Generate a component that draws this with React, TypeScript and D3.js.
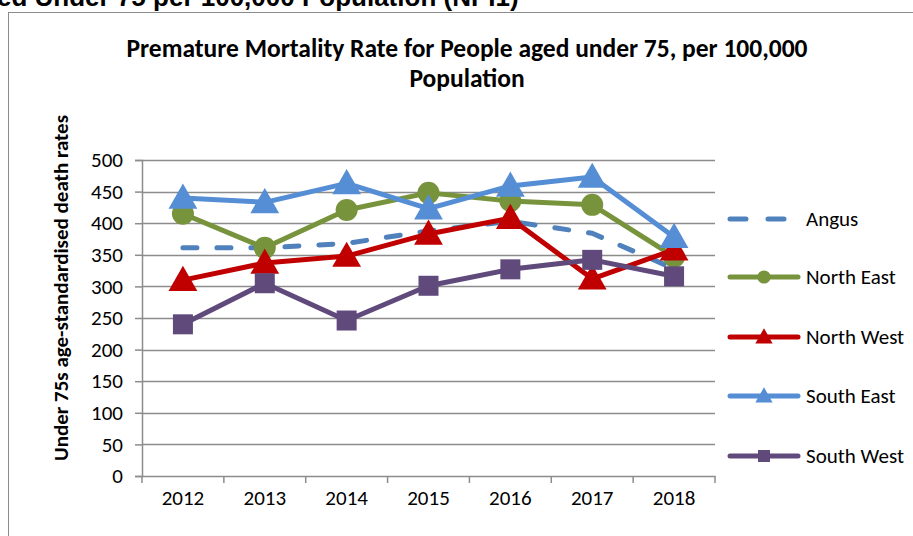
import React, { useEffect, useRef } from 'react';
import * as d3 from 'd3';

const years = ['2012', '2013', '2014', '2015', '2016', '2017', '2018'];
const angus = [361, 361, 368, 388, 403, 384, 328];
const northEast = [415, 361, 421, 448, 435, 429, 347];
const northWest = [310, 337, 348, 383, 408, 312, 358];
const southEast = [440, 433, 463, 423, 459, 473, 378];
const southWest = [240, 305, 246, 301, 327, 342, 316];
const yTicks = [0, 50, 100, 150, 200, 250, 300, 350, 400, 450, 500];

const series = [
  { name: 'Angus', values: angus, color: '#4f81bd', marker: 'none', dashed: true },
  { name: 'North East', values: northEast, color: '#77933c', marker: 'circle', dashed: false },
  { name: 'North West', values: northWest, color: '#c00000', marker: 'triangle', dashed: false },
  { name: 'South East', values: southEast, color: '#558ed5', marker: 'triangle', dashed: false },
  { name: 'South West', values: southWest, color: '#604a7b', marker: 'square', dashed: false },
];

const font = 'Carlito, Calibri, Lato, sans-serif';

const App = () => {
  const ref = useRef<SVGSVGElement>(null);

  useEffect(() => {
    const svg = d3.select(ref.current);
    svg.selectAll('*').remove();

    const margin = { left: 142, right: 198, top: 160, bottom: 60 };
    const width = 913;
    const height = 536;

    // heading from the page above, cut off at the top
    svg.append('text')
      .attr('x', -3)
      .attr('y', 6)
      .style('font-family', 'Liberation Sans, Arial, sans-serif')
      .style('font-weight', 'bold')
      .style('font-size', '26px')
      .text('ed Under 75 per 100,000 Population (NPI1)');

    // chart border
    svg.append('rect')
      .attr('x', 8.5)
      .attr('y', 12.5)
      .attr('width', 960)
      .attr('height', 600)
      .attr('fill', 'white')
      .attr('stroke', '#8c8c8c')
      .attr('stroke-width', 1);

    // title
    const title = svg.append('text')
      .attr('text-anchor', 'middle')
      .style('font-family', font)
      .style('font-weight', 'bold')
      .style('font-size', '25.5px');
    title.append('tspan').attr('x', 467).attr('y', 57)
      .text('Premature Mortality Rate for People aged under 75, per 100,000');
    title.append('tspan').attr('x', 467).attr('y', 87).text('Population');

    const x = d3.scaleBand()
      .domain(years)
      .range([margin.left, width - margin.right]);

    const y = d3.scaleLinear()
      .domain([0, 500])
      .range([height - margin.bottom, margin.top]);

    // gridlines
    svg.append('g')
      .selectAll('line')
      .data(yTicks.slice(1))
      .enter().append('line')
      .attr('x1', margin.left)
      .attr('x2', width - margin.right)
      .attr('y1', d => Math.round(y(d)) + 0.5)
      .attr('y2', d => Math.round(y(d)) + 0.5)
      .attr('stroke', '#8c8c8c')
      .attr('stroke-width', 1.5);

    // y axis
    const yAxis = svg.append('g')
      .attr('transform', `translate(${margin.left}, 0)`)
      .call(d3.axisLeft(y).tickValues(yTicks).tickSize(7).tickPadding(12));
    yAxis.select('.domain').attr('stroke', '#8c8c8c').attr('stroke-width', 1.5);
    yAxis.selectAll('.tick line').attr('stroke', '#8c8c8c').attr('stroke-width', 1.5);
    yAxis.selectAll('text')
      .style('font-family', font)
      .style('font-size', '21px')
      .attr('fill', 'black');

    // x axis
    const xAxis = svg.append('g')
      .attr('transform', `translate(0, ${height - margin.bottom})`)
      .call(d3.axisBottom(x).tickSize(0).tickPadding(14));
    xAxis.select('.domain').attr('stroke', '#8c8c8c').attr('stroke-width', 1.5);
    xAxis.selectAll('text')
      .style('font-family', font)
      .style('font-size', '21px')
      .attr('fill', 'black');
    // tick marks between categories
    xAxis.selectAll('.band-tick')
      .data(years.concat(['end']))
      .enter().append('line')
      .attr('class', 'band-tick')
      .attr('x1', (d, i) => margin.left + i * x.bandwidth())
      .attr('x2', (d, i) => margin.left + i * x.bandwidth())
      .attr('y1', 0)
      .attr('y2', 7)
      .attr('stroke', '#8c8c8c')
      .attr('stroke-width', 1.5);

    // y axis label
    svg.append('text')
      .attr('transform', `translate(68, ${(margin.top + height - margin.bottom) / 2 - 30}) rotate(-90)`)
      .attr('text-anchor', 'middle')
      .style('font-family', font)
      .style('font-weight', 'bold')
      .style('font-size', '21px')
      .text('Under 75s age-standardised death rates');

    const cx = (d: string) => (x(d) as number) + x.bandwidth() / 2;
    const line = d3.line<number>()
      .x((d, i) => cx(years[i]))
      .y(d => y(d));

    const drawMarker = (g: any, type: string, px: number, py: number, color: string, size: number) => {
      if (type === 'circle') {
        g.append('circle').attr('cx', px).attr('cy', py).attr('r', size * 0.55).attr('fill', color);
      } else if (type === 'triangle') {
        const s = size * 1.2;
        g.append('path')
          .attr('d', `M${px},${py - s * 0.6}L${px + s * 0.6},${py + s * 0.45}L${px - s * 0.6},${py + s * 0.45}Z`)
          .attr('fill', color);
      } else if (type === 'square') {
        g.append('rect')
          .attr('x', px - size * 0.5).attr('y', py - size * 0.5)
          .attr('width', size).attr('height', size)
          .attr('fill', color);
      }
    };

    series.forEach(s => {
      const g = svg.append('g');
      g.append('path')
        .datum(s.values)
        .attr('d', line)
        .attr('fill', 'none')
        .attr('stroke', s.color)
        .attr('stroke-width', 5)
        .attr('stroke-linejoin', 'round')
        .attr('stroke-linecap', s.dashed ? 'round' : 'butt')
        .attr('stroke-dasharray', s.dashed ? '14,20' : null);
      s.values.forEach((v, i) => drawMarker(g, s.marker, cx(years[i]), y(v), s.color, 20));
    });

    // legend
    const legendY = [219, 277, 337, 396, 456];
    series.forEach((s, i) => {
      const g = svg.append('g');
      const ly = legendY[i];
      g.append('line')
        .attr('x1', 730).attr('x2', 798)
        .attr('y1', ly).attr('y2', ly)
        .attr('stroke', s.color)
        .attr('stroke-width', 5)
        .attr('stroke-linecap', 'round')
        .attr('stroke-dasharray', s.dashed ? '16,22' : null);
      drawMarker(g, s.marker, 764, ly, s.color, 12);
      g.append('text')
        .attr('x', 806)
        .attr('y', ly + 7)
        .style('font-family', font)
        .style('font-size', '21px')
        .text(s.name);
    });
  }, []);

  return (
    <svg ref={ref} width={913} height={536}
      style={{ position: 'absolute', left: 0, top: 0, background: 'white' }} />
  );
};

export default App;
